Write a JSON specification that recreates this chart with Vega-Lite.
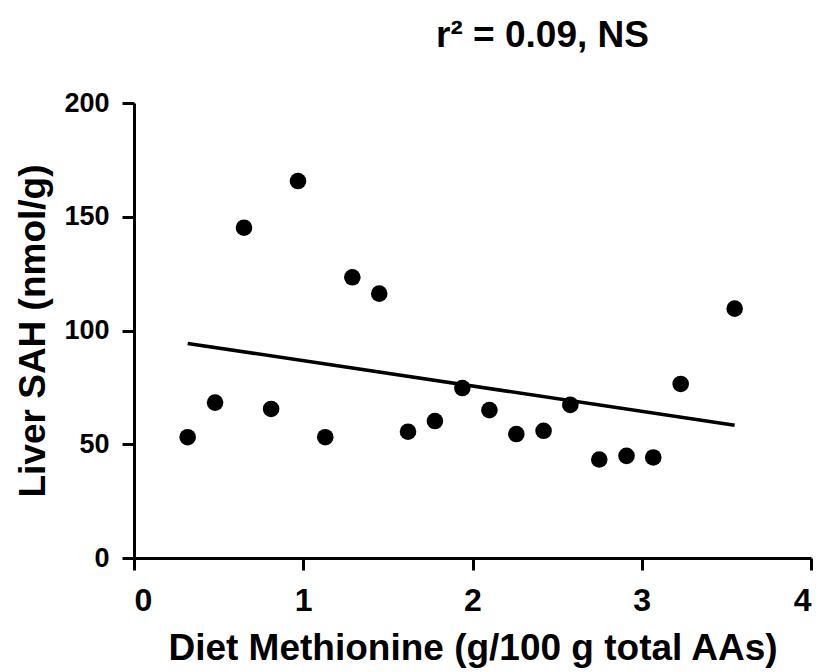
{
  "$schema": "https://vega.github.io/schema/vega-lite/v6.json",
  "width": 677,
  "height": 455,
  "autosize": "none",
  "padding": {"left": 134, "top": 103, "right": 12, "bottom": 114},
  "background": "white",
  "title": {
    "text": "r² = 0.09, NS",
    "font": "Liberation Sans",
    "fontSize": 37,
    "fontWeight": "bold",
    "color": "black",
    "anchor": "middle",
    "dx": 70,
    "baseline": "alphabetic",
    "offset": 5
  },
  "config": {
    "view": {"stroke": null},
    "axis": {
      "domainColor": "black",
      "domainWidth": 3,
      "tickColor": "black",
      "tickWidth": 3,
      "tickSize": 12,
      "grid": false,
      "labelFont": "Liberation Sans",
      "labelFontWeight": "bold",
      "labelColor": "black",
      "titleFont": "Liberation Sans",
      "titleFontWeight": "bold",
      "titleFontSize": 37,
      "titleColor": "black"
    }
  },
  "data": {
    "values": [
      {"met": 0.317, "sah": 53.1},
      {"met": 0.479, "sah": 68.3},
      {"met": 0.65, "sah": 145.2},
      {"met": 0.81, "sah": 65.5},
      {"met": 0.969, "sah": 165.7},
      {"met": 1.13, "sah": 53.1},
      {"met": 1.29, "sah": 123.4},
      {"met": 1.449, "sah": 116.2},
      {"met": 1.619, "sah": 55.5},
      {"met": 1.778, "sah": 60.2},
      {"met": 1.94, "sah": 74.7},
      {"met": 2.1, "sah": 65.0},
      {"met": 2.259, "sah": 54.5},
      {"met": 2.42, "sah": 55.9},
      {"met": 2.578, "sah": 67.3},
      {"met": 2.749, "sah": 43.3},
      {"met": 2.91, "sah": 44.9},
      {"met": 3.068, "sah": 44.2},
      {"met": 3.23, "sah": 76.5},
      {"met": 3.549, "sah": 109.6}
    ]
  },
  "encoding": {
    "x": {
      "field": "met",
      "type": "quantitative",
      "title": "Diet Methionine (g/100 g total AAs)",
      "scale": {"domain": [0, 4], "nice": false, "zero": false},
      "axis": {
        "values": [0, 1, 2, 3, 4],
        "labelFontSize": 32,
        "labelPadding": 15,
        "titlePadding": 14
      }
    },
    "y": {
      "field": "sah",
      "type": "quantitative",
      "title": "Liver SAH (nmol/g)",
      "scale": {"domain": [0, 200], "nice": false},
      "axis": {
        "values": [0, 50, 100, 150, 200],
        "labelFontSize": 27,
        "labelPadding": 13,
        "titlePadding": 11
      }
    }
  },
  "layer": [
    {
      "transform": [{"regression": "sah", "on": "met"}],
      "mark": {"type": "line", "color": "black", "strokeWidth": 3.5}
    },
    {
      "mark": {"type": "point", "filled": true, "color": "black", "opacity": 1, "size": 275}
    }
  ]
}
